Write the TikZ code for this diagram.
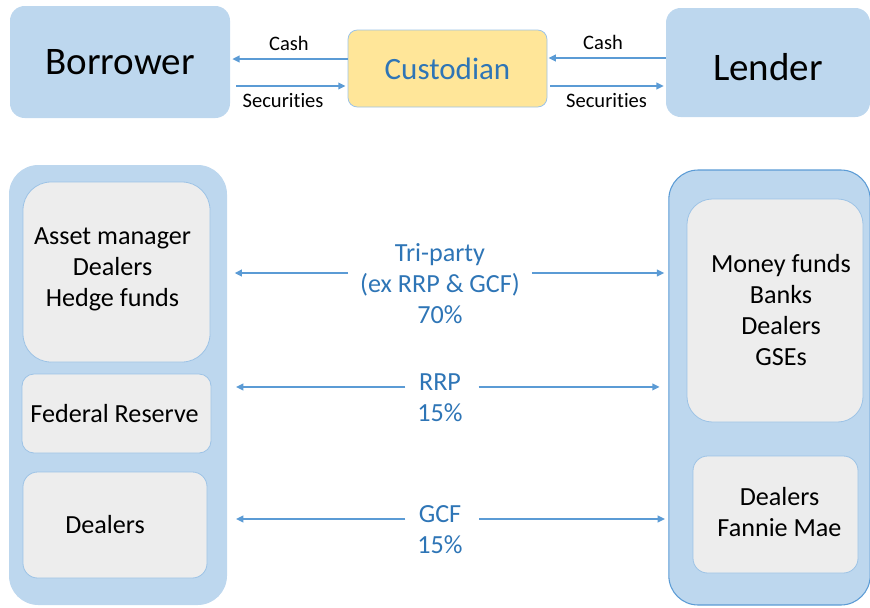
\documentclass[tikz,border=0pt]{standalone}
\usepackage{fontspec}
\setmainfont{Carlito}[Ligatures={NoCommon}]
\usetikzlibrary{arrows.meta,calc}
\definecolor{boxblue}{HTML}{BDD7EE}
\definecolor{edgeblue}{HTML}{9DC3E6}
\definecolor{linkblue}{HTML}{5B9BD5}
\definecolor{textblue}{HTML}{2E75B6}
\definecolor{panelgray}{HTML}{EDEDED}
\definecolor{custfill}{HTML}{FFE699}
% lower the contents of a box without changing its size
\newcommand{\shiftdown}[2]{\raisebox{-#1}[\height][\depth]{#2}}

\begin{document}
\begin{tikzpicture}[x=0.75pt,y=-0.75pt,
  party/.style={rectangle, rounded corners=11pt, fill=boxblue, inner sep=0pt,
    font=\fontsize{29.25}{35}\selectfont},
  custbox/.style={rectangle, rounded corners=7pt, fill=custfill, draw=edgeblue,
    line width=0.6pt, inner sep=0pt, text=textblue, font=\fontsize{23.25}{28}\selectfont},
  group/.style={rectangle, rounded corners=22pt, fill=boxblue, inner sep=0pt},
  member/.style={rectangle, fill=panelgray, draw=edgeblue, line width=0.6pt,
    inner sep=0pt, align=center, font=\fontsize{19.6}{23.25}\selectfont},
  flowlab/.style={inner sep=0pt, outer xsep=9pt, align=center, text=textblue,
    font=\fontsize{19.6}{23.25}\selectfont},
  smalllab/.style={inner sep=0pt, font=\fontsize{15.4}{18}\selectfont},
  arr/.style={draw=linkblue, line width=1.3pt, -{Triangle[length=5.5pt,width=5pt]}},
]
\useasboundingbox (0,0) rectangle (870,607);

% top row: borrower, custodian, lender
\node[party, minimum width=165pt, minimum height=84pt] (bor) at (120,62) {Borrower};
\node[custbox, minimum width=149.25pt, minimum height=57.75pt] (cust) at (447.5,68.5) {Custodian};
\node[party, minimum width=153pt, minimum height=81.75pt] (len) at (768,62.5) {\shiftdown{3.4pt}{Lender}};

% top flows
\coordinate (cashL) at ([yshift=7.1pt]cust.west);
\coordinate (secL) at ([yshift=-18pt]bor.east);
\coordinate (cashR) at ([yshift=3.4pt]len.west);
\coordinate (secR) at ([yshift=-13.1pt]cust.east);
\draw[arr, shorten >=1.5pt] (cashL) -- (cashL -| bor.east)
  node[smalllab, midway, above=5.5pt] (cashLlab) {Cash};
\draw[arr, shorten <=4.5pt, shorten >=1.5pt] (secL) -- (secL -| cust.west)
  node[smalllab, pos=0.45, below=5pt] (secLlab) {Securities};
\draw[arr, shorten >=0.8pt] (cashR) -- (cashR -| cust.east)
  node[smalllab, pos=0.53, above=5.5pt] (cashRlab) {Cash};
\draw[arr, shorten <=2pt, shorten >=1.5pt] (secR) -- (secR -| len.west)
  node[smalllab, pos=0.5, below=5pt] (secRlab) {Securities};

% borrower groups
\node[group, minimum width=163.5pt, minimum height=330pt] (lbox) at (118,385) {};
\node[member, rounded corners=21pt, minimum width=140.25pt, minimum height=135pt]
  (am) at (116.5,272) {\shiftdown{-2.25pt}{\begin{tabular}{@{}c@{}}Asset manager\\Dealers\\Hedge funds\end{tabular}}\hspace{6pt}};
\node[member, rounded corners=9pt, minimum width=141.75pt, minimum height=59.25pt]
  (fed) at (116.5,413.5) {Federal Reserve\hspace{3pt}};
\node[member, rounded corners=11pt, minimum width=138pt, minimum height=79.5pt]
  (bdeal) at (115,525) {Dealers\hspace{15pt}};

% lender groups
\node[group, draw=linkblue, line width=0.8pt, minimum width=151pt, minimum height=326.25pt]
  (rbox) at (769.5,387.5) {};
\node[member, rounded corners=19pt, minimum width=132pt, minimum height=167.25pt]
  (mf) at (775,310.5) {\hspace{9pt}\shiftdown{1.9pt}{\begin{tabular}{@{}c@{}}Money funds\\Banks\\Dealers\\GSEs\end{tabular}}};
\node[member, rounded corners=11pt, minimum width=123.75pt, minimum height=87.75pt]
  (ldeal) at (775.5,514.5) {\hspace{6pt}\begin{tabular}{@{}c@{}}Dealers\\Fannie Mae\end{tabular}};

% market segments
\node[flowlab] (tri) at (440,284) {Tri-party\\(ex RRP \& GCF)\\70\%};
\node[flowlab] (rrp) at (440,397.5) {RRP\\15\%};
\node[flowlab] (gcf) at (440,529.5) {GCF\\15\%};

\coordinate (triW) at ([yshift=8.25pt]tri.west);
\coordinate (triE) at ([yshift=8.25pt]tri.east);
\coordinate (rrpW) at ([yshift=7.9pt]rrp.west);
\coordinate (rrpE) at ([xshift=3pt, yshift=7.9pt]rrp.east);
\coordinate (gcfW) at ([yshift=7.9pt]gcf.west);
\coordinate (gcfE) at ([xshift=3.5pt, yshift=7.9pt]gcf.east);

\draw[arr, shorten >=5.5pt] (triW) -- (triW -| lbox.east);
\draw[arr, shorten >=3pt] (triE) -- (triE -| rbox.west);
\draw[arr, shorten >=6.5pt] (rrpW) -- (rrpW -| lbox.east);
\draw[arr, shorten >=6.5pt] (rrpE) -- (rrpE -| rbox.west);
\draw[arr, shorten >=6.5pt] (gcfW) -- (gcfW -| lbox.east);
\draw[arr, shorten >=2.5pt] (gcfE) -- (gcfE -| rbox.west);
\end{tikzpicture}
\end{document}
